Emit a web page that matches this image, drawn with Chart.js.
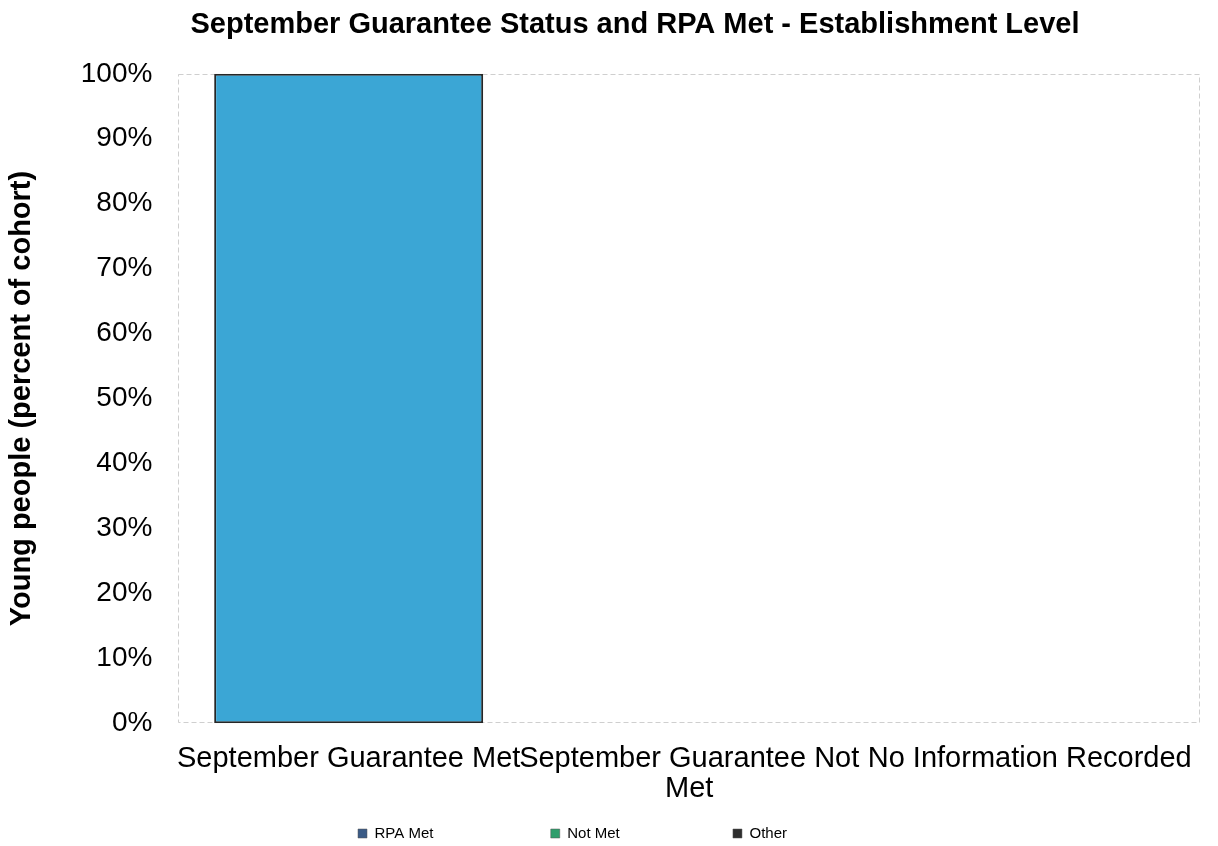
<!DOCTYPE html>
<html><head><meta charset="utf-8">
<script src="https://cdn.jsdelivr.net/npm/chart.js@4/dist/chart.umd.min.js"></script>
<style>html,body{margin:0;padding:0;background:#fff}#w{width:1218px;height:846px}</style>
</head><body><div id="w"><canvas id="c" width="1218" height="846"></canvas></div>
<script>
const categories = [["September Guarantee Met"], ["September Guarantee Not", "Met"], ["No Information Recorded"]];
const seriesNames = ["RPA Met", "Not Met", "Other"];
const rpaMet = [100, 0, 0];
const notMet = [0, 0, 0];
const other = [0, 0, 0];
const yTicks = [0,10,20,30,40,50,60,70,80,90,100];

const FONT = 'Liberation Sans, Arial, sans-serif';
const legendGap = [26, 25, 30];

const frame = {
  id: 'frame',
  beforeDatasetsDraw(chart) {
    const {ctx, chartArea: a} = chart;
    ctx.save();
    ctx.strokeStyle = '#cfcfcf';
    ctx.lineWidth = 1;
    ctx.setLineDash([5, 3]);
    ctx.strokeRect(Math.round(a.left) + 0.5, Math.round(a.top) + 0.5, Math.round(a.right - a.left) - 1, Math.round(a.bottom - a.top) - 1);
    ctx.restore();
  }
};

new Chart(document.getElementById('c'), {
  type: 'bar',
  data: {
    labels: categories,
    datasets: [
      {label: seriesNames[0], data: rpaMet, backgroundColor: '#3ba6d5', borderColor: '#262626', borderWidth: 2, borderSkipped: false, legendColor: '#3b5b86'},
      {label: seriesNames[1], data: notMet, backgroundColor: '#2f9e6c', borderColor: '#262626', borderWidth: 0, legendColor: '#2f9e6c'},
      {label: seriesNames[2], data: other, backgroundColor: '#2e2e2e', borderColor: '#262626', borderWidth: 0, legendColor: '#2e2e2e'}
    ]
  },
  options: {
    responsive: false,
    animation: false,
    layout: {padding: {left: 70, right: 18, top: 0, bottom: -5}},
    datasets: {bar: {categoryPercentage: 0.79, barPercentage: 1.0}},
    plugins: {
      title: {display: true, text: 'September Guarantee Status and RPA Met - Establishment Level',
        color: '#000', font: {family: FONT, size: 29, weight: 'bold', lineHeight: 1.2}, padding: {top: 8, bottom: 31}},
      legend: {position: 'bottom', labels: {color: '#000', boxWidth: 9, boxHeight: 9, padding: 9,
        font: {family: FONT, size: 15},
        generateLabels(chart) {
          return chart.data.datasets.map((ds, i) => ({
            text: ds.label + ' '.repeat(legendGap[i]),
            fillStyle: ds.legendColor, strokeStyle: '#555', lineWidth: 0.5,
            hidden: false, datasetIndex: i, fontColor: '#000'
          }));
        }}},
      tooltip: {enabled: false}
    },
    scales: {
      x: {
        stacked: true,
        grid: {display: false},
        border: {display: false},
        ticks: {color: '#000', maxRotation: 0, autoSkip: false, padding: 13,
          font: {family: FONT, size: 29, lineHeight: 1.03}}
      },
      y: {
        stacked: true, min: 0, max: 100,
        afterBuildTicks(s) { s.ticks = yTicks.map(v => ({value: v})); },
        grid: {display: false},
        border: {display: false},
        ticks: {color: '#000', padding: 18, callback: v => v + '%',
          font: {family: FONT, size: 28}},
        title: {display: true, text: 'Young people (percent of cohort)', color: '#000', padding: {top: -65, bottom: 23},
          font: {family: FONT, size: 29, weight: 'bold', lineHeight: 1.2}}
      }
    }
  },
  plugins: [frame]
});
</script></body></html>
